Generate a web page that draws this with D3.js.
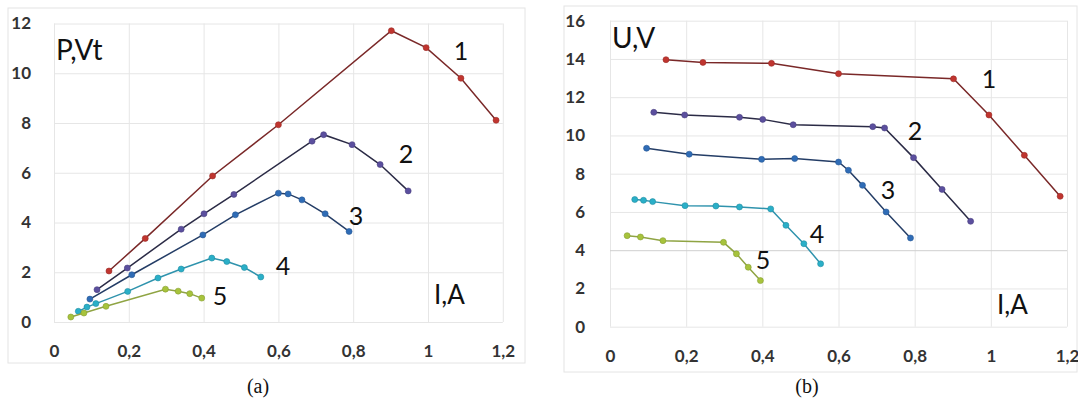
<!DOCTYPE html>
<html><head><meta charset="utf-8">
<script src="https://cdn.jsdelivr.net/npm/d3@7"></script>
<style>body{margin:0;background:#fff;}svg{display:block;}</style>
</head><body>
<svg id="c" width="1078" height="403"></svg>
<script>
// Current I (A) for each curve 1..5
const I1 = [0.147,0.244,0.424,0.600,0.902,0.995,1.088,1.182];
const I2 = [0.115,0.196,0.340,0.401,0.481,0.690,0.721,0.797,0.872,0.947];
const I3 = [0.096,0.208,0.398,0.485,0.600,0.626,0.663,0.725,0.789];
const I4 = [0.065,0.088,0.112,0.197,0.278,0.340,0.422,0.462,0.509,0.553];
const I5 = [0.045,0.080,0.139,0.298,0.332,0.363,0.395];
// Power P (Vt), chart (a)
const P1 = [2.05,3.36,5.87,7.93,11.71,11.03,9.80,8.11];
const P2 = [1.30,2.17,3.73,4.35,5.13,7.27,7.53,7.13,6.33,5.27];
const P3 = [0.92,1.90,3.50,4.31,5.18,5.15,4.91,4.35,3.64];
const P4 = [0.43,0.60,0.74,1.23,1.77,2.13,2.57,2.43,2.19,1.81];
const P5 = [0.20,0.36,0.63,1.32,1.24,1.14,0.96];
// Voltage U (V), chart (b)
const U1 = [13.96,13.82,13.77,13.23,12.96,11.07,8.96,6.82];
const U2 = [11.21,11.07,10.95,10.84,10.56,10.46,10.39,8.84,7.18,5.51];
const U3 = [9.33,9.02,8.75,8.79,8.61,8.18,7.39,6.00,4.64];
const U4 = [6.65,6.61,6.54,6.33,6.31,6.26,6.16,5.30,4.34,3.29];
const U5 = [4.76,4.69,4.50,4.41,3.81,3.11,2.41];
const seriesNames = ["1","2","3","4","5"];
const xTicks = [0,0.2,0.4,0.6,0.8,1,1.2];
const yTicksP = [0,2,4,6,8,10,12];
const yTicksU = [0,2,4,6,8,10,12,14,16];

const markerColors = ["#c0352f","#5b4f9e","#2f6cb6","#2aafc8","#a7c33c"];
const lineColors = ["#7a2828","#2b2b46","#243d66","#2f93ad","#8fa443"];

const svg = d3.select("#c");
const fmt = d => String(d).replace(".", ",");
const tickFont = "Lato, 'Open Sans', sans-serif";

function chart(cfg){
  const g = svg.append("g");
  g.append("rect").attr("x",cfg.frame[0]).attr("y",cfg.frame[1])
    .attr("width",cfg.frame[2]-cfg.frame[0]).attr("height",cfg.frame[3]-cfg.frame[1])
    .attr("fill","none").attr("stroke","#e4e4e4").attr("stroke-width",1);
  const x = d3.scaleLinear().domain([0,1.2]).range(cfg.xr);
  const y = d3.scaleLinear().domain([0,cfg.ymax]).range(cfg.yr);
  g.append("g").attr("transform",`translate(0,${cfg.yr[1]})`)
    .call(d3.axisBottom(x).tickValues(xTicks).tickSize(cfg.yr[0]-cfg.yr[1]).tickFormat(""))
    .call(a=>a.select(".domain").remove())
    .call(a=>a.selectAll("line").attr("stroke","#e6e6e6"));
  g.append("g").attr("transform",`translate(${cfg.xr[0]},0)`)
    .call(d3.axisRight(y).tickValues(cfg.yTicks).tickSize(cfg.xr[1]-cfg.xr[0]).tickFormat(""))
    .call(a=>a.select(".domain").remove())
    .call(a=>a.selectAll("line").attr("stroke",d=>d===cfg.darkLine?"#cfcfcf":"#e6e6e6"));
  g.append("g").attr("transform",`translate(0,${cfg.yr[0]+32})`)
    .call(d3.axisBottom(x).tickValues(xTicks).tickSize(0).tickFormat(fmt))
    .call(a=>a.select(".domain").remove())
    .call(a=>a.selectAll("text").attr("font-family",tickFont).attr("font-size",17)
      .attr("font-weight","bold").attr("fill","#333").attr("dy","0"));
  g.append("g").attr("transform",`translate(${cfg.xr[0]-cfg.yLabGap},0)`)
    .call(d3.axisLeft(y).tickValues(cfg.yTicks).tickSize(0).tickFormat(fmt))
    .call(a=>a.select(".domain").remove())
    .call(a=>a.selectAll("text").attr("font-family",tickFont).attr("font-size",17)
      .attr("font-weight","bold").attr("fill","#333"));
  const line = d3.line().x(d=>x(d[0])).y(d=>y(d[1]));
  cfg.series.forEach((s,i)=>{
    const pts = s.I.map((v,k)=>[v,s.V[k]]);
    g.append("path").attr("d",line(pts)).attr("fill","none")
      .attr("stroke",lineColors[i]).attr("stroke-width",1.5);
    g.selectAll(null).data(pts).enter().append("circle")
      .attr("cx",d=>x(d[0])).attr("cy",d=>y(d[1])).attr("r",3)
      .attr("fill",markerColors[i]).attr("stroke",d3.color(markerColors[i]).darker(0.6)).attr("stroke-width",0.6);
  });
  cfg.labels.forEach((p,i)=>{
    g.append("text").attr("x",p[0]).attr("y",p[1]).attr("text-anchor","middle")
      .attr("font-family",tickFont).attr("font-size",25).attr("fill","#111").text(seriesNames[i]);
  });
  g.append("text").attr("x",cfg.yTitle[0]).attr("y",cfg.yTitle[1])
    .attr("font-family",tickFont).attr("font-size",28).attr("fill","#111").text(cfg.yTitleText);
  g.append("text").attr("x",cfg.xTitle[0]).attr("y",cfg.xTitle[1])
    .attr("font-family",tickFont).attr("font-size",26).attr("fill","#111").text("I,A");
  g.append("text").attr("x",cfg.cap[0]).attr("y",cfg.cap[1]).attr("text-anchor","middle")
    .attr("font-family","'Liberation Serif', 'Times New Roman', serif").attr("font-size",20)
    .attr("fill","#111").text(cfg.capText);
}

chart({
  frame:[8,8,525,363], xr:[54,502.8], yr:[322,23.5], ymax:12, yTicks:yTicksP, yLabGap:20,
  series:[{I:I1,V:P1},{I:I2,V:P2},{I:I3,V:P3},{I:I4,V:P4},{I:I5,V:P5}],
  labels:[[461,60],[406,163],[356,225],[283,275],[220,305]],
  yTitle:[56,60], yTitleText:"P,Vt", xTitle:[434,304], cap:[258,393], capText:"(a)", darkLine:null
});
chart({
  frame:[564,6,1077,372], xr:[610,1067], yr:[326.7,20.7], ymax:16, yTicks:yTicksU, yLabGap:22,
  series:[{I:I1,V:U1},{I:I2,V:U2},{I:I3,V:U3},{I:I4,V:U4},{I:I5,V:U5}],
  labels:[[989,88],[915,140],[888,199],[817,243],[763,269]],
  yTitle:[612,48], yTitleText:"U,V", xTitle:[997,314], cap:[807,393], capText:"(b)", darkLine:4
});
</script>
</body></html>
